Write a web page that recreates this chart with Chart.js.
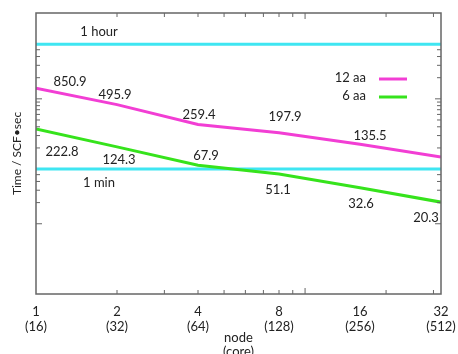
<!DOCTYPE html>
<html>
<head>
<meta charset="utf-8">
<script src="https://cdn.jsdelivr.net/npm/chart.js@4"></script>
<style>
html, body { margin: 0; padding: 0; background: #fff; }
#wrap { width: 458px; height: 354px; }
</style>
</head>
<body>
<div id="wrap"><canvas id="timeChart"></canvas></div>
<script>
var nodes = [1, 2, 4, 8, 16, 32];
var cores = [16, 32, 64, 128, 256, 512];
var time12aa = [850.9, 495.9, 259.4, 197.9, 135.5, 89.0];
var time6aa = [222.8, 124.3, 67.9, 51.1, 32.6, 20.3];
var refLevels = [3600, 60];
var refNames = ["1 hour", "1 min"];
var xMinorTicks = [2, 3, 4, 5, 6, 7, 8, 9, 10, 20, 30];
var yMinorTicks = [10, 20, 30, 40, 50, 120, 180, 240, 300, 360, 420, 480, 540, 600, 1200, 1800, 2400, 3000];

function points(ys) {
  return nodes.map(function (n, i) { return { x: n, y: ys[i] }; });
}
function flat(v) {
  return [{ x: nodes[0], y: v }, { x: nodes[nodes.length - 1], y: v }];
}

var FONT = "Lato";

// frame, inward ticks, value labels and legend, gnuplot style
var gnuplotLook = {
  id: "gnuplotLook",
  afterDatasetsDraw: function (chart, args, opts) {
    var ctx = chart.ctx, a = chart.chartArea;
    var sx = chart.scales.x, sy = chart.scales.y;
    ctx.save();
    ctx.strokeStyle = "#666";
    ctx.lineWidth = 1.5;
    ctx.strokeRect(a.left, a.top, a.right - a.left, a.bottom - a.top);

    ctx.lineWidth = 1;
    ctx.beginPath();
    xMinorTicks.forEach(function (v) {
      var px = sx.getPixelForValue(v), len = v === 10 ? 6 : 4;
      ctx.moveTo(px, a.bottom); ctx.lineTo(px, a.bottom - len);
      ctx.moveTo(px, a.top); ctx.lineTo(px, a.top + len);
    });
    yMinorTicks.forEach(function (v) {
      var py = sy.getPixelForValue(v), len = (v === 10 || v === 600) ? 6 : 4;
      ctx.moveTo(a.left, py); ctx.lineTo(a.left + len, py);
      ctx.moveTo(a.right, py); ctx.lineTo(a.right - len, py);
    });
    ctx.stroke();

    ctx.font = "13px " + FONT;
    ctx.fillStyle = "#222";
    ctx.textAlign = "center";
    ctx.textBaseline = "middle";
    chart.data.datasets.forEach(function (ds, i) {
      var off = opts.offsets[i];
      if (!off) return;
      chart.getDatasetMeta(i).data.forEach(function (pt, j) {
        if (!off[j]) return;
        ctx.fillText(ds.data[j].y.toFixed(1), pt.x + off[j][0], pt.y + off[j][1]);
      });
    });

    refLevels.forEach(function (v, i) {
      var py = sy.getPixelForValue(v);
      ctx.fillText(refNames[i], a.left + 63, py + (i === 0 ? -12 : 14));
    });

    // legend
    [0, 1].forEach(function (i) {
      var ds = chart.data.datasets[i];
      var ly = a.top + 65 + i * 18;
      ctx.textAlign = "right";
      ctx.fillStyle = "#222";
      ctx.fillText(ds.label, a.right - 75, ly);
      ctx.strokeStyle = ds.borderColor;
      ctx.lineWidth = 3;
      ctx.beginPath();
      ctx.moveTo(a.right - 62, ly + 1);
      ctx.lineTo(a.right - 34, ly + 1);
      ctx.stroke();
    });
    ctx.restore();
  }
};

new Chart(document.getElementById("timeChart").getContext("2d"), {
  type: "line",
  data: {
    datasets: [
      { label: "12 aa", data: points(time12aa), borderColor: "#f23ed4", borderWidth: 3 },
      { label: "6 aa", data: points(time6aa), borderColor: "#36e31c", borderWidth: 3 },
      { label: refNames[0], data: flat(refLevels[0]), borderColor: "#3fe6f2", borderWidth: 3 },
      { label: refNames[1], data: flat(refLevels[1]), borderColor: "#3fe6f2", borderWidth: 3 }
    ]
  },
  options: {
    responsive: true,
    maintainAspectRatio: false,
    animation: false,
    elements: { point: { radius: 0 }, line: { tension: 0 } },
    layout: { padding: { top: 13, right: 17, left: 0, bottom: 0 } },
    scales: {
      x: {
        type: "logarithmic",
        min: 1,
        max: 32,
        afterBuildTicks: function (s) {
          s.ticks = nodes.map(function (v) { return { value: v }; });
        },
        ticks: {
          autoSkip: false,
          maxRotation: 0,
          minRotation: 0,
          padding: 2,
          color: "#222",
          font: { family: FONT, size: 13, lineHeight: 1.15 },
          callback: function (v) {
            var i = nodes.indexOf(v);
            return i < 0 ? "" : [String(v), "(" + cores[i] + ")"];
          }
        },
        grid: { display: false },
        border: { display: false },
        title: {
          display: true,
          text: ["node", "(core)"],
          color: "#222",
          font: { family: FONT, size: 13, lineHeight: 1.08 },
          padding: { top: 0, bottom: -5 }
        },
        afterFit: function (s) { s.height = 60; }
      },
      y: {
        type: "logarithmic",
        min: 1,
        max: 10000,
        ticks: { display: false },
        grid: { display: false },
        border: { display: false },
        title: {
          display: true,
          text: "Time / SCF\u2022sec",
          color: "#222",
          font: { family: FONT, size: 12 },
          padding: { top: 10, bottom: 0 }
        },
        afterFit: function (s) { s.width = 36; }
      }
    },
    plugins: {
      legend: { display: false },
      tooltip: { enabled: false },
      gnuplotLook: {
        offsets: [
          [[34, -6], [-2, -10], [1, -10], [6, -16], [10, -8], null],
          [[26, 23], [2, 13], [8, -9], [-1, 16], [1, 16], [-15, 16]]
        ]
      }
    }
  },
  plugins: [gnuplotLook]
});
</script>
</body>
</html>
